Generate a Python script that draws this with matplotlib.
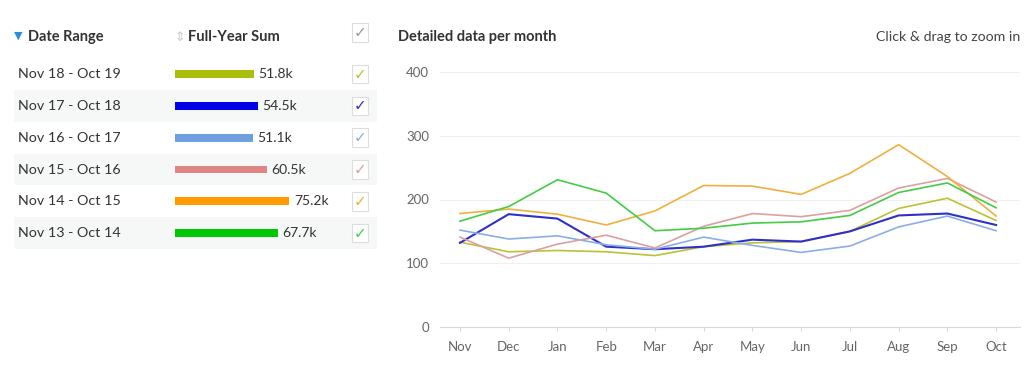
import matplotlib.pyplot as plt
import matplotlib.transforms as mtrans

plt.rcParams['font.family'] = ['Lato', 'DejaVu Sans']

# table data
ranges = ["Nov 18 - Oct 19", "Nov 17 - Oct 18", "Nov 16 - Oct 17",
          "Nov 15 - Oct 16", "Nov 14 - Oct 15", "Nov 13 - Oct 14"]
sums = [51.8, 54.5, 51.1, 60.5, 75.2, 67.7]
bar_colors = ["#adbd0c", "#0000e6", "#6f9fdf", "#e08585", "#ff9a00", "#00c800"]
line_colors = ["#b9c335", "#3030c8", "#8aaee6", "#dca0a0", "#f0b040", "#44cc44"]

# monthly data
months = ["Nov", "Dec", "Jan", "Feb", "Mar", "Apr", "May", "Jun", "Jul", "Aug", "Sep", "Oct"]
y_1819 = [133, 118, 120, 118, 112, 126, 132, 134, 150, 186, 202, 167]
y_1718 = [132, 177, 170, 126, 122, 126, 137, 134, 150, 175, 178, 160]
y_1617 = [152, 138, 143, 129, 122, 141, 128, 117, 127, 157, 174, 151]
y_1516 = [141, 108, 130, 144, 124, 158, 178, 173, 183, 218, 233, 196]
y_1415 = [178, 185, 177, 160, 182, 222, 221, 208, 241, 286, 236, 174]
y_1314 = [166, 189, 231, 210, 151, 155, 163, 165, 175, 211, 226, 187]
series = [y_1819, y_1718, y_1617, y_1516, y_1415, y_1314]

W, H = 1024, 366
fig = plt.figure(figsize=(W / 100, H / 100), dpi=100)

# ---- left table ----
ax_t = fig.add_axes([14 / W, 1 - 250 / H, 363 / W, 230 / H])
px_per_k = 1.52
ax_t.set_xlim(-(175 - 14) / px_per_k, (377 - 175) / px_per_k)
ax_t.set_ylim(5.53, -1.70)
ax_t.axis('off')

rows = list(range(len(ranges)))
for i in rows:
    if i % 2 == 1:
        ax_t.axhspan(i - 0.5, i + 0.5, color="#f6f8f8", lw=0, zorder=0)

ax_t.barh(rows, sums, height=0.25, color=bar_colors, zorder=2)
tr_x = mtrans.blended_transform_factory(ax_t.transAxes, ax_t.transData)
box = dict(boxstyle='square,pad=0.12', fc='white', ec='#dddddd', lw=0.8)
for i, (r, s, c) in enumerate(zip(ranges, sums, line_colors)):
    ax_t.text(0.011, i, r, transform=tr_x, ha='left', va='center',
              fontsize=10.3, color="#333333")
    ax_t.text(s + 3, i, f"{s}k", ha='left', va='center', fontsize=10, color="#333333")
    ax_t.text(0.953, i, "\u2713", transform=tr_x, ha='center', va='center',
              fontsize=11, color=c, family=['DejaVu Sans'], bbox=box)

hdr = -1.16
ax_t.text(0.0, hdr - 0.05, "\u25BC", transform=tr_x, ha='left', va='center',
          fontsize=8, color="#2a8fd8", family=['DejaVu Sans'])
ax_t.text(0.038, hdr, "Date Range", transform=tr_x, ha='left', va='center',
          fontsize=10.5, fontweight='bold', color="#333333")
ax_t.text(0.443, hdr, "\u21D5", transform=tr_x, ha='left', va='center',
          fontsize=9, color="#c8c8c8", family=['DejaVu Sans'])
ax_t.text(0.479, hdr, "Full-Year Sum", transform=tr_x, ha='left', va='center',
          fontsize=10.5, fontweight='bold', color="#333333")
ax_t.text(0.953, hdr - 0.15, "\u2713", transform=tr_x, ha='center', va='center',
          fontsize=11, color="#999999", family=['DejaVu Sans'], bbox=box)

# ---- line chart ----
ax = fig.add_axes([440 / W, 1 - 327 / H, 580 / W, 255 / H])
x = list(range(len(months)))
for ys, c in zip(series, line_colors):
    lw = 1.5 if c == "#3030c8" else 1.2
    ax.plot(x, ys, color=c, lw=lw)

ax.set_xlim(-0.41, 11.49)
ax.set_ylim(0, 400)
ax.set_yticks([0, 100, 200, 300, 400])
ax.set_xticks(x)
ax.set_xticklabels(months)
ax.grid(axis='y', color="#f0f0f0", lw=0.8)
ax.set_axisbelow(True)
for side in ['top', 'right', 'left']:
    ax.spines[side].set_visible(False)
ax.spines['bottom'].set_color("#d8d8d8")
ax.tick_params(axis='y', length=0, pad=8, labelsize=9.5, labelcolor="#666666")
ax.tick_params(axis='x', length=3, color="#d8d8d8", pad=7, labelsize=9.5, labelcolor="#666666")

fig.text(398 / W, 1 - 37 / H, "Detailed data per month", ha='left', va='center',
         fontsize=10.5, fontweight='bold', color="#333333")
fig.text(1020 / W, 1 - 37 / H, "Click & drag to zoom in", ha='right', va='center',
         fontsize=10.2, color="#444444")

fig.savefig("out.png", dpi=100, facecolor='white')
